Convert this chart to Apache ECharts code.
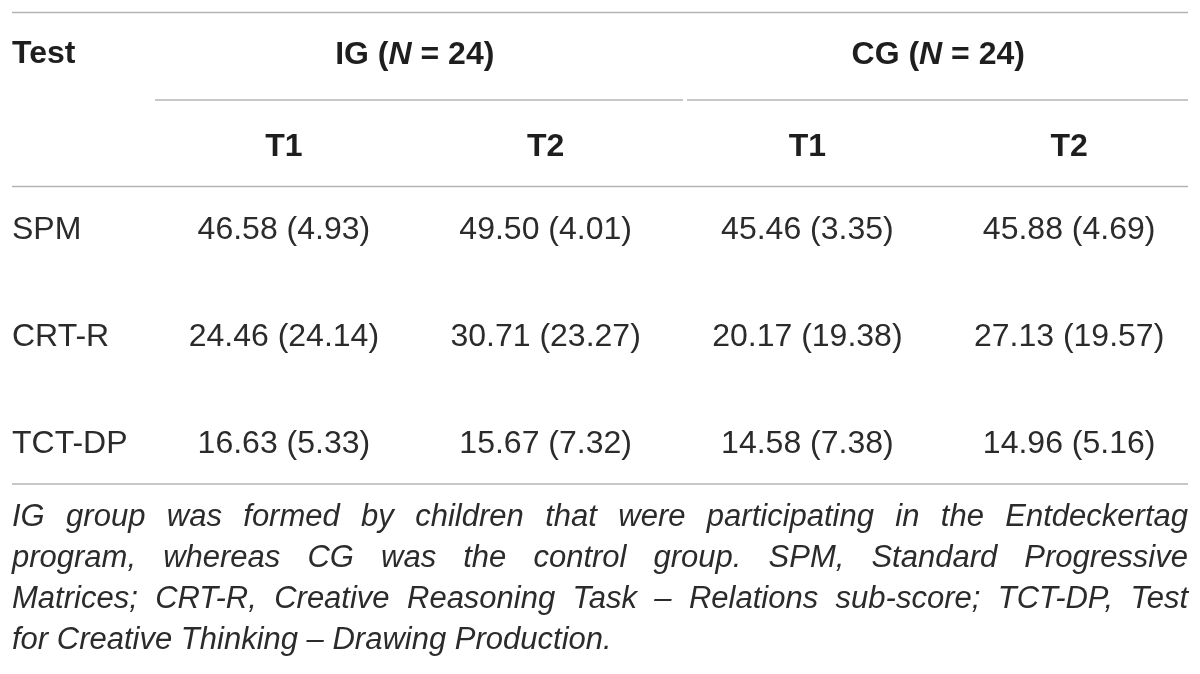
<!DOCTYPE html>
<html>
<head>
<meta charset="utf-8">
<script src="https://cdn.jsdelivr.net/npm/echarts@6/dist/echarts.min.js"></script>
<style>
  html, body { margin: 0; padding: 0; background: #fff; }
  #main { width: 1200px; height: 674px; }
</style>
</head>
<body>
<div id="main"></div>
<script>
// table data
const testNames = ['SPM', 'CRT-R', 'TCT-DP'];
const timeLabels = ['T1', 'T2', 'T1', 'T2'];
const groupNames = ['IG', 'CG'];
const groupN = [24, 24];

const igT1Mean = [46.58, 24.46, 16.63];
const igT1Sd = [4.93, 24.14, 5.33];
const igT2Mean = [49.50, 30.71, 15.67];
const igT2Sd = [4.01, 23.27, 7.32];
const cgT1Mean = [45.46, 20.17, 14.58];
const cgT1Sd = [3.35, 19.38, 7.38];
const cgT2Mean = [45.88, 27.13, 14.96];
const cgT2Sd = [4.69, 19.57, 5.16];

const noteLines = [
    'IG group was formed by children that were participating in the Entdeckertag',
    'program, whereas CG was the control group. SPM, Standard Progressive',
    'Matrices; CRT-R, Creative Reasoning Task \u2013 Relations sub-score; TCT-DP, Test',
    'for Creative Thinking \u2013 Drawing Production.'
];

const FONT = '"Liberation Sans", Arial, Helvetica, sans-serif';
const TEXT_COLOR = '#2b2b2b';
const HEAD_COLOR = '#1e1e1e';
const RULE_COLOR = '#b4b4b4';
const BODY_SIZE = 32;
const NOTE_SIZE = 31;

const columnsMean = [igT1Mean, igT2Mean, cgT1Mean, cgT2Mean];
const columnsSd = [igT1Sd, igT2Sd, cgT1Sd, cgT2Sd];

let cells = [];
columnsMean.forEach((col, ci) => {
    col.forEach((m, ri) => {
        cells.push([ci, ri, m, columnsSd[ci][ri]]);
    });
});

// rules
function rule(x1, y, x2) {
    return {
        type: 'line',
        shape: { x1: x1, y1: y, x2: x2, y2: y },
        style: { stroke: RULE_COLOR, lineWidth: 1.6 }
    };
}

let graphics = [
    rule(12, 12.5, 1188),
    rule(155, 100, 683),
    rule(687, 100, 1188),
    rule(12, 186.5, 1188),
    rule(12, 484, 1188),
    {
        type: 'text',
        x: 12,
        y: 54,
        style: {
            text: 'Test',
            font: 'bold ' + BODY_SIZE + 'px ' + FONT,
            fill: HEAD_COLOR,
            verticalAlign: 'middle'
        }
    }
];

// justified footnote
let ctx = document.createElement('canvas').getContext('2d');
ctx.font = 'italic ' + NOTE_SIZE + 'px ' + FONT;
let noteLeft = 12, noteRight = 1188;
noteLines.forEach((line, li) => {
    let y = 517 + li * 41;
    let words = line.split(' ');
    let widths = words.map(w => ctx.measureText(w).width);
    let total = widths.reduce((a, b) => a + b, 0);
    let last = li === noteLines.length - 1;
    let gap = last ? ctx.measureText(' ').width : (noteRight - noteLeft - total) / (words.length - 1);
    let x = noteLeft;
    words.forEach((w, wi) => {
        graphics.push({
            type: 'text',
            x: x,
            y: y,
            style: {
                text: w,
                font: 'italic ' + NOTE_SIZE + 'px ' + FONT,
                fill: TEXT_COLOR,
                verticalAlign: 'middle',
                align: 'left'
            }
        });
        x += widths[wi] + gap;
    });
});

let chart = echarts.init(document.getElementById('main'));
chart.setOption({
    backgroundColor: '#fff',
    animation: false,
    textStyle: { fontFamily: FONT },
    grid: { left: 153, right: -15, top: 177, bottom: 176 },
    xAxis: [{
        type: 'category',
        position: 'top',
        data: timeLabels,
        axisLine: { show: false },
        axisTick: { show: false },
        splitLine: { show: false },
        axisLabel: {
            margin: 30,
            verticalAlign: 'middle',
            fontSize: BODY_SIZE,
            fontWeight: 'bold',
            color: HEAD_COLOR,
            fontFamily: FONT
        }
    }, {
        type: 'category',
        position: 'top',
        data: groupNames,
        axisLine: { show: false },
        axisTick: { show: false },
        splitLine: { show: false },
        axisLabel: {
            margin: 122,
            verticalAlign: 'middle',
            color: HEAD_COLOR,
            formatter: function (v, i) {
                return '{b|' + v + ' (}{i|N}{b| = ' + groupN[i] + ')}';
            },
            rich: {
                b: { fontSize: BODY_SIZE, fontWeight: 'bold', color: HEAD_COLOR, fontFamily: FONT },
                i: { fontSize: BODY_SIZE, fontWeight: 'bold', fontStyle: 'italic', color: HEAD_COLOR, fontFamily: FONT }
            }
        }
    }],
    yAxis: {
        type: 'category',
        inverse: true,
        data: testNames,
        axisLine: { show: false },
        axisTick: { show: false },
        splitLine: { show: false },
        axisLabel: {
            align: 'left',
            margin: 141,
            fontSize: BODY_SIZE,
            color: TEXT_COLOR,
            fontFamily: FONT
        }
    },
    series: [{
        type: 'custom',
        xAxisIndex: 0,
        data: cells,
        silent: true,
        encode: { x: 0, y: 1 },
        renderItem: function (params, api) {
            let pt = api.coord([api.value(0), api.value(1)]);
            return {
                type: 'text',
                x: pt[0],
                y: pt[1],
                style: {
                    text: api.value(2).toFixed(2) + ' (' + api.value(3).toFixed(2) + ')',
                    font: BODY_SIZE + 'px ' + FONT,
                    fill: TEXT_COLOR,
                    align: 'center',
                    verticalAlign: 'middle'
                }
            };
        }
    }],
    graphic: graphics
});
</script>
</body>
</html>
